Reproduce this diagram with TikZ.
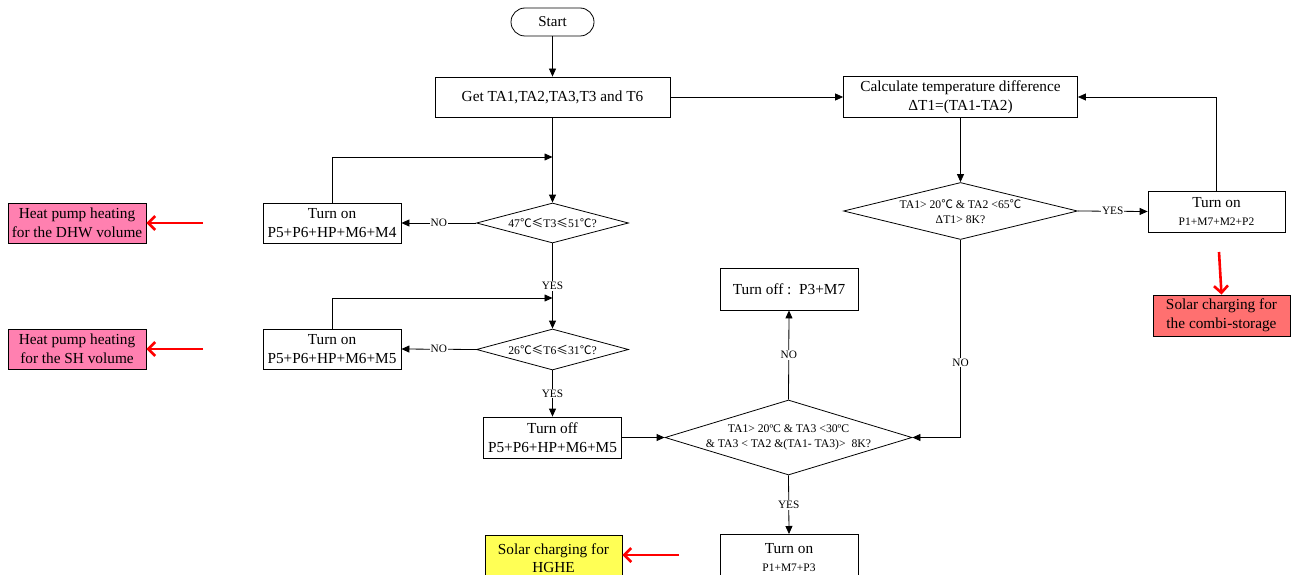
\documentclass[tikz,border=0pt]{standalone}
\usepackage{fontspec}
\setmainfont{Liberation Serif}
\newfontfamily\cjk{Noto Sans CJK SC}
\usetikzlibrary{shapes.geometric,arrows.meta}
\newcommand{\dgc}{{\cjk ℃}}
\newcommand{\lesym}{{\cjk ≤}}
\definecolor{pinkfill}{RGB}{255,128,176}
\definecolor{salmonfill}{RGB}{255,112,112}
\definecolor{yellowfill}{RGB}{255,255,85}
\begin{document}
\begin{tikzpicture}[x=1pt,y=-1pt,line width=0.8pt,
  box/.style={draw,line width=0.8pt,minimum width=138,minimum height=40,inner sep=1pt,align=center,font=\fontsize{15.3}{18.5}\selectfont},
  dia/.style={draw,diamond,inner sep=0pt,line width=0.8pt},
  diatext/.style={align=center,font=\fontsize{11.7}{15}\selectfont},
  arr/.style={-{Triangle[length=8pt,width=7pt]}},
  redarr/.style={red,line width=2.6pt,-{Straight Barb[length=7pt,width=14pt]}},
  lab/.style={fill=white,inner sep=1pt,font=\fontsize{11.3}{13}\selectfont}
]
\useasboundingbox (0,0) rectangle (1293,575);

% nodes
\node[draw,rounded corners=14pt,minimum width=83,minimum height=28,inner sep=1pt,font=\fontsize{15}{17}\selectfont] (start) at (552.5,22) {Start};
\node[box,minimum width=235] (get) at (552.5,97) {Get TA1,TA2,TA3,T3 and T6};
\node[box,minimum width=234,minimum height=41] (calc) at (960.5,97) {Calculate temperature difference\\ΔT1=(TA1-TA2)};
\node[dia,minimum width=234,minimum height=57] (d1) at (960.5,211) {};
\node[diatext] (d1t) at (960.5,212) {TA1> 20\dgc{} \& TA2 <65\dgc\\ΔT1> 8K?};
\node[box,minimum width=137,minimum height=41] (on1) at (1216.5,211.5) {Turn on\\{\fontsize{11.5}{13}\selectfont P1+M7+M2+P2}};
\node[box,minimum width=137,minimum height=41,fill=salmonfill] (solar1) at (1221.5,315.5) {Solar charging for\\the combi-storage};

\node[dia,minimum width=152,minimum height=40] (d2) at (552.5,223) {};
\node[diatext] (d2t) at (552.5,223) {47\dgc\lesym T3\lesym 51\dgc ?};
\node[box] (onA) at (332,223) {Turn on\\P5+P6+HP+M6+M4};
\node[box,fill=pinkfill] (pinkA) at (77,223) {Heat pump heating\\for the DHW volume};

\node[dia,minimum width=152,minimum height=41] (d3) at (552.5,349.5) {};
\node[diatext] (d3t) at (552.5,349.5) {26\dgc\lesym T6\lesym 31\dgc ?};
\node[box] (onB) at (332,349) {Turn on\\P5+P6+HP+M6+M5};
\node[box,fill=pinkfill] (pinkB) at (77,349) {Heat pump heating\\for the SH volume};

\node[box,minimum height=41] (off) at (552.5,437.5) {Turn off\\P5+P6+HP+M6+M5};
\node[dia,minimum width=247,minimum height=75] (d4) at (788.5,437.5) {};
\node[diatext] (d4t) at (788.5,437.5) {TA1> 20ºC \& TA3 <30ºC\\\& TA3 < TA2 \&(TA1- TA3)>~~8K?};
\node[box,minimum height=42] (off2) at (789,289) {Turn off :~~P3+M7};
\node[box,minimum height=46,anchor=north] (on3) at (789,534) {Turn on\\{\fontsize{11.5}{13}\selectfont P1+M7+P3}};
\node[box,minimum width=137,minimum height=46,anchor=north,fill=yellowfill] (hghe) at (553.5,535) {Solar charging for\\HGHE};

% helper coordinates
\coordinate (j1) at (552.5,157);
\coordinate (j2) at (552.5,298);
\coordinate (r1) at (1219,252);
\coordinate (r2) at (203,223);
\coordinate (r3) at (203,349);
\coordinate (r4) at (679,555);

% connectors
\draw[arr] (start) -- (get);
\draw[arr] (get) -- (calc);
\draw[arr] (calc) -- (d1);
\draw[arr] (d1.east) -- node[lab]{YES} (on1.west);
\draw[arr] (on1.north) |- (calc.east);
\draw[arr] (d1.south) |- node[lab,pos=0.31]{NO} (d4.east);
\draw[arr] (get) -- (d2);
\draw[arr] (d2.west) -- node[lab]{NO} (onA.east);
\draw[arr] (onA.north) |- (j1);
\draw[arr] (d2.south) -- node[lab]{YES} (d3.north);
\draw[arr] (onB.north) |- (j2);
\draw[arr] (d3.west) -- node[lab]{NO} (onB.east);
\draw[arr] (d3.south) -- node[lab]{YES} (off.north);
\draw[arr] (off.east) -- (d4.west);
\draw[arr] (d4.north) -- node[lab]{NO} (off2.south);
\draw[arr] (d4.south) -- node[lab]{YES} (on3.north);

\draw[redarr] (r1) -- (solar1.north);
\draw[redarr] (r2) -- (pinkA.east);
\draw[redarr] (r3) -- (pinkB.east);
\draw[redarr] (r4) -- (hghe.east |- r4);
\end{tikzpicture}
\end{document}
